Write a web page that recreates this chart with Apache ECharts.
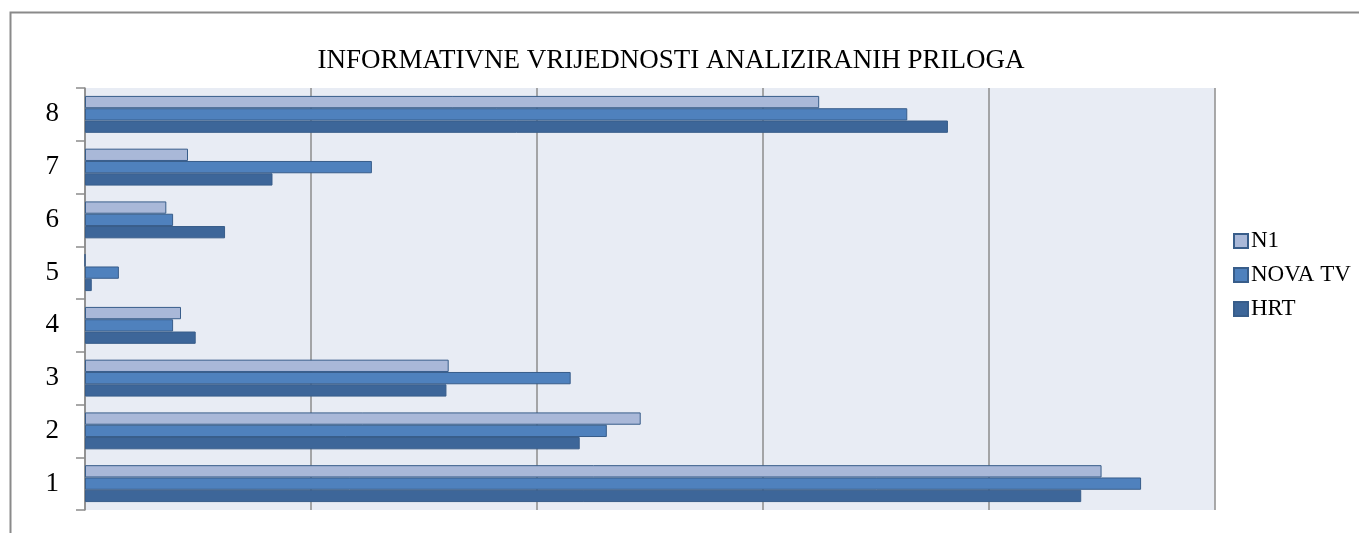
<!DOCTYPE html>
<html>
<head>
<meta charset="utf-8">
<script src="https://cdn.jsdelivr.net/npm/echarts@6/dist/echarts.min.js"></script>
<style>
  html, body { margin: 0; padding: 0; background: #fff; }
  #main { width: 1359px; height: 533px; }
</style>
</head>
<body>
<div id="main"></div>
<script>
var categories = ['1', '2', '3', '4', '5', '6', '7', '8'];
var hrt = [44.1, 21.9, 16.0, 4.9, 0.3, 6.2, 8.3, 38.2];
var novaTv = [46.75, 23.1, 21.5, 3.9, 1.5, 3.9, 12.7, 36.4];
var n1 = [45.0, 24.6, 16.1, 4.25, 0, 3.6, 4.56, 32.5];

var font = 'Liberation Serif';
var myChart = echarts.init(document.getElementById('main'));

function barSeries(name, data, color) {
  return {
    name: name,
    type: 'bar',
    data: data,
    barGap: '0%',
    barCategoryGap: '30%',
    itemStyle: { color: color, borderColor: '#385d8a', borderWidth: 1 }
  };
}

var opt = {
  animation: false,
  title: {
    text: 'INFORMATIVNE VRIJEDNOSTI ANALIZIRANIH PRILOGA',
    left: 666,
    top: 42,
    textAlign: 'center',
    textStyle: { fontFamily: font, fontSize: 27, fontWeight: 'normal', color: '#000' }
  },
  graphic: [{
    type: 'rect',
    left: 8, top: 10,
    shape: { width: 1400, height: 600 },
    style: { fill: 'none', stroke: '#8a8a8a', lineWidth: 2 },
    silent: true
  }],
  legend: {
    orient: 'vertical',
    left: 1233,
    top: 229,
    padding: 0,
    icon: 'rect',
    itemWidth: 14,
    itemHeight: 14,
    itemGap: 10,
    data: ['N1', 'NOVA TV', 'HRT'],
    textStyle: { fontFamily: font, fontSize: 23, lineHeight: 24, color: '#000', padding: [0, 0, 0, -2] }
  },
  grid: {
    left: 85, right: 144.5, top: 88, bottom: 23,
    show: true, backgroundColor: '#e8ecf4', borderWidth: 0
  },
  xAxis: {
    type: 'value',
    min: 0, max: 50, interval: 10,
    axisLabel: { show: false },
    axisTick: { show: false },
    axisLine: { show: false },
    splitLine: { lineStyle: { color: '#8c8c8c', width: 1.5 } }
  },
  yAxis: {
    type: 'category',
    data: categories,
    axisLine: { show: true, lineStyle: { color: '#8c8c8c', width: 1.5 } },
    axisTick: { show: true, length: 9, lineStyle: { color: '#8c8c8c', width: 1.5 } },
    axisLabel: { fontFamily: font, fontSize: 27, color: '#000', margin: 26 }
  },
  series: [
    barSeries('N1', n1, '#a9b8d8'),
    barSeries('NOVA TV', novaTv, '#4f81bd'),
    barSeries('HRT', hrt, '#3d6699')
  ]
};
myChart.setOption(opt);
</script>
</body>
</html>
